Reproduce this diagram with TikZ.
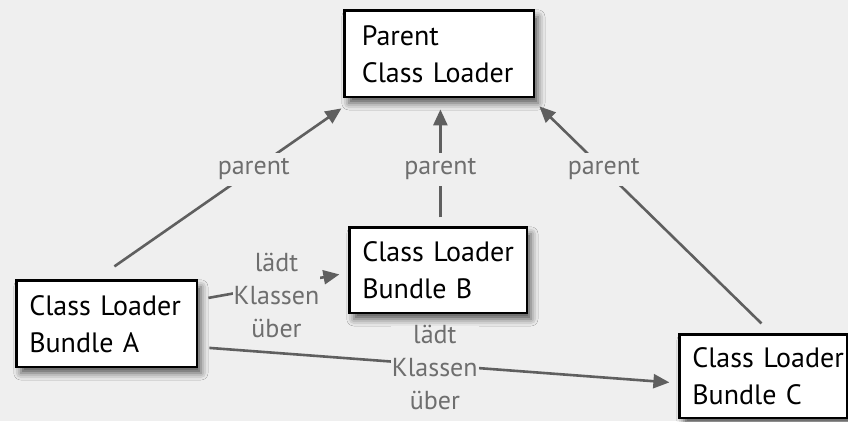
\documentclass[tikz,border=0pt]{standalone}
\usepackage{fontspec}
\setmainfont{PT Sans}
\usetikzlibrary{shadows.blur,arrows.meta}
\definecolor{bg}{HTML}{EFEFEF}
\definecolor{arrgray}{HTML}{5F5F5F}
\definecolor{lblgray}{HTML}{6E6E6E}
\begin{document}
\begin{tikzpicture}[x=1pt,y=-1pt,
  box/.style={draw=black, line width=2.8pt, fill=white, align=left,
    font=\fontsize{28}{37}\selectfont, anchor=north west, inner ysep=0pt,
    blur shadow={shadow xshift=4pt, shadow yshift=-6pt, shadow blur radius=7pt, shadow opacity=65}},
  arr/.style={draw=arrgray, line width=2.6pt, -{Triangle[length=16pt,width=14pt]}},
  lbl/.style={fill=bg, text=lblgray, font=\fontsize{26}{33}\selectfont, inner xsep=1pt, inner ysep=3pt, align=center},
  plbl/.style={lbl, inner xsep=4pt, inner ysep=6pt}]
\useasboundingbox (0,0) rectangle (848,421);
\fill[bg] (0,0) rectangle (848,421);

\node[box, minimum width=189.2pt, minimum height=86.2pt, inner xsep=17pt, text width=155.2pt] (P) at (343.4,9.4)
  {\mbox{Parent}\\\mbox{Class Loader}};
\node[box, minimum width=177.2pt, minimum height=85.2pt, inner xsep=12.5pt, text width=152.2pt] (B) at (348.4,226.4)
  {\mbox{Class Loader}\\\mbox{Bundle B}};
\node[box, minimum width=180.2pt, minimum height=86.2pt, inner xsep=12.5pt, text width=155.2pt] (A) at (15.4,279.4)
  {\mbox{Class Loader}\\\mbox{Bundle A}};
\node[box, minimum width=167.2pt, minimum height=83.2pt, inner xsep=12.5pt, text width=142.2pt] (C) at (678.4,333.4)
  {\mbox{Class Loader}\\\mbox{Bundle C}};

\draw[arr] ([xshift=7.5pt,yshift=13pt]A.north) -- node[plbl, pos=0.614] (pa) {parent} ([xshift=-2pt,yshift=-10pt]P.south west);
\draw[arr] ([xshift=2pt,yshift=9pt]B.north) -- node[plbl, pos=0.444] (pb) {parent} ([xshift=1pt,yshift=-11pt]P.south);
\draw[arr] ([xshift=-2pt,yshift=10pt]C.north) -- node[plbl, pos=0.71] (pc) {parent} ([xshift=4pt,yshift=-8pt]P.south east);

\draw[arr] ([xshift=10pt,yshift=26pt]A.east) -- node[lbl, pos=0.52, yshift=-10pt] (lab) {lädt\\Klassen\\über} ([xshift=-9pt,yshift=-4pt]B.west);
\draw[arr] ([xshift=11pt,yshift=-24pt]A.east) -- node[lbl, pos=0.49, yshift=-3pt, inner ysep=0pt] (lac) {lädt\\Klassen\\über} ([xshift=-9pt,yshift=-6pt]C.west);
\end{tikzpicture}
\end{document}
